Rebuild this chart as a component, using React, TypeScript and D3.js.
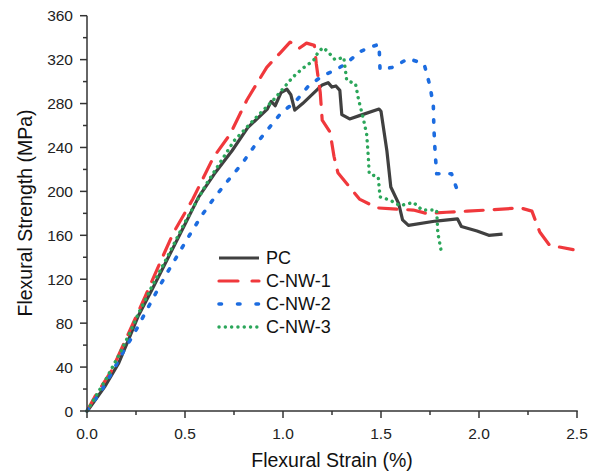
import React from 'react';
import * as d3 from 'd3';

// [strain %, strength MPa]
const pcData: [number, number][] = [
  [0, 0], [0.01, 2], [0.09, 22], [0.16, 43], [0.21, 64], [0.26, 86], [0.33, 110], [0.415, 140],
  [0.5, 170], [0.57, 195], [0.65, 216], [0.74, 237], [0.82, 258], [0.92, 275], [0.94, 282],
  [0.96, 278], [0.99, 290], [1.02, 293], [1.04, 288], [1.06, 274], [1.1, 280], [1.2, 297],
  [1.23, 299], [1.25, 295], [1.27, 296], [1.29, 292], [1.3, 270], [1.34, 266], [1.39, 269],
  [1.49, 275], [1.5, 273], [1.53, 237], [1.55, 204], [1.59, 189], [1.61, 174], [1.64, 169],
  [1.78, 173], [1.89, 175], [1.91, 168], [1.99, 164], [2.05, 160], [2.12, 161],
];

const nw1Data: [number, number][] = [
  [0, 0], [0.04, 13], [0.126, 37], [0.21, 70], [0.296, 104], [0.37, 134], [0.44, 162],
  [0.54, 193], [0.645, 231], [0.73, 252], [0.815, 283], [0.917, 313], [0.985, 326],
  [1.036, 336], [1.06, 333], [1.08, 330], [1.12, 335], [1.16, 333], [1.17, 316], [1.19, 290],
  [1.2, 265], [1.24, 254], [1.26, 232], [1.28, 217], [1.34, 204], [1.39, 193], [1.48, 185],
  [1.56, 184], [1.665, 183], [1.73, 180], [1.835, 181], [1.94, 182], [2.04, 183], [2.21, 185],
  [2.27, 182], [2.31, 163], [2.36, 151], [2.48, 147],
];

const nw2Data: [number, number][] = [
  [0, 0], [0.075, 19], [0.134, 37], [0.185, 54], [0.245, 72], [0.296, 89], [0.35, 107],
  [0.406, 125], [0.466, 143], [0.526, 161], [0.585, 178], [0.653, 195], [0.72, 210],
  [0.79, 225], [0.857, 242], [0.925, 257], [0.993, 272], [1.06, 281], [1.13, 296], [1.2, 305],
  [1.26, 310], [1.32, 316], [1.39, 327], [1.44, 331], [1.49, 334], [1.495, 311], [1.56, 313],
  [1.64, 321], [1.72, 316], [1.75, 296], [1.767, 278], [1.77, 257], [1.776, 236], [1.784, 216],
  [1.86, 216], [1.895, 198],
];

const nw3Data: [number, number][] = [
  [0, 0], [0.04, 12], [0.1, 30], [0.16, 50], [0.21, 68], [0.26, 88], [0.33, 113], [0.415, 142],
  [0.5, 172], [0.61, 207], [0.75, 246], [0.85, 265], [0.95, 283], [1.05, 304], [1.1, 312],
  [1.155, 319], [1.18, 327], [1.205, 331], [1.23, 327], [1.265, 320], [1.31, 322], [1.325, 301],
  [1.37, 298], [1.385, 284], [1.41, 266], [1.427, 252], [1.435, 232], [1.44, 216], [1.486, 213],
  [1.495, 195], [1.546, 192], [1.597, 187], [1.665, 190], [1.71, 183], [1.784, 183], [1.79, 162],
  [1.81, 143],
];

const seriesNames = ['PC', 'C-NW-1', 'C-NW-2', 'C-NW-3'];
const seriesData = [pcData, nw1Data, nw2Data, nw3Data];
const seriesColors = ['#404040', '#F0383C', '#1C6CE0', '#2BA65A'];
const seriesDash = ['none', '18 11', '2.5 11', '0.1 6.2'];
const seriesWidth = [3.2, 3.2, 3.6, 3.4];

const xTicks = [0, 0.5, 1, 1.5, 2, 2.5];
const xMinor = [0.25, 0.75, 1.25, 1.75, 2.25];
const yTicks = [0, 40, 80, 120, 160, 200, 240, 280, 320, 360];
const yMinor = [20, 60, 100, 140, 180, 220, 260, 300, 340];

const W = 598;
const H = 474;
const font = '"Liberation Sans", Arial, sans-serif';

export default function App() {
  const x = d3.scaleLinear().domain([0, 2.5]).range([87, 577]);
  const y = d3.scaleLinear().domain([0, 360]).range([411, 15.7]);
  const line = d3.line<[number, number]>().x(d => x(d[0])).y(d => y(d[1]));
  const axisColor = '#333';

  return (
    <svg width={W} height={H} style={{ position: 'absolute', left: 0, top: 0, background: '#fff' }}
      fontFamily={font}>
      {seriesData.map((d, i) => (
        <path key={seriesNames[i]} d={line(d) || ''} fill="none" stroke={seriesColors[i]}
          strokeWidth={seriesWidth[i]} strokeDasharray={seriesDash[i]}
          strokeLinecap={i === 0 ? 'butt' : 'round'} strokeLinejoin="round" />
      ))}

      {/* axes */}
      <line x1={x(0)} x2={x(2.5) + 0.75} y1={y(0)} y2={y(0)} stroke={axisColor} strokeWidth={1.5} />
      <line x1={x(0)} x2={x(0)} y1={y(0) + 0.75} y2={y(360)} stroke={axisColor} strokeWidth={1.5} />
      {xTicks.map(t => (
        <g key={'xt' + t}>
          <line x1={x(t)} x2={x(t)} y1={y(0)} y2={y(0) + 7} stroke={axisColor} strokeWidth={1.5} />
          <text x={x(t)} y={439} textAnchor="middle" fontSize={15.5} fill="#222">{t.toFixed(1)}</text>
        </g>
      ))}
      {xMinor.map(t => (
        <line key={'xm' + t} x1={x(t)} x2={x(t)} y1={y(0)} y2={y(0) + 4} stroke={axisColor} strokeWidth={1.5} />
      ))}
      {yTicks.map(t => (
        <g key={'yt' + t}>
          <line x1={x(0) - 7} x2={x(0)} y1={y(t)} y2={y(t)} stroke={axisColor} strokeWidth={1.5} />
          <text x={73} y={y(t)} dy="0.36em" textAnchor="end" fontSize={15.5} fill="#222">{t}</text>
        </g>
      ))}
      {yMinor.map(t => (
        <line key={'ym' + t} x1={x(0) - 4} x2={x(0)} y1={y(t)} y2={y(t)} stroke={axisColor} strokeWidth={1.5} />
      ))}

      {/* axis titles */}
      <text x={332} y={467} textAnchor="middle" fontSize={19.5} fill="#111">Flexural Strain (%)</text>
      <text transform={`translate(32, 213) rotate(-90)`} textAnchor="middle" fontSize={19.5} fill="#111">
        Flexural Strength (MPa)
      </text>

      {/* legend */}
      {seriesNames.map((name, i) => {
        const ly = [258, 281, 304, 327][i];
        return (
          <g key={'lg' + name}>
            <line x1={219} x2={259} y1={ly} y2={ly} stroke={seriesColors[i]} strokeWidth={seriesWidth[i]}
              strokeDasharray={i === 1 ? '19 14' : i === 2 ? '2.5 16' : seriesDash[i]}
              strokeLinecap={i === 0 ? 'butt' : 'round'} />
            <text x={266} y={ly} dy="0.36em" fontSize={18} fill="#111">{name}</text>
          </g>
        );
      })}
    </svg>
  );
}
